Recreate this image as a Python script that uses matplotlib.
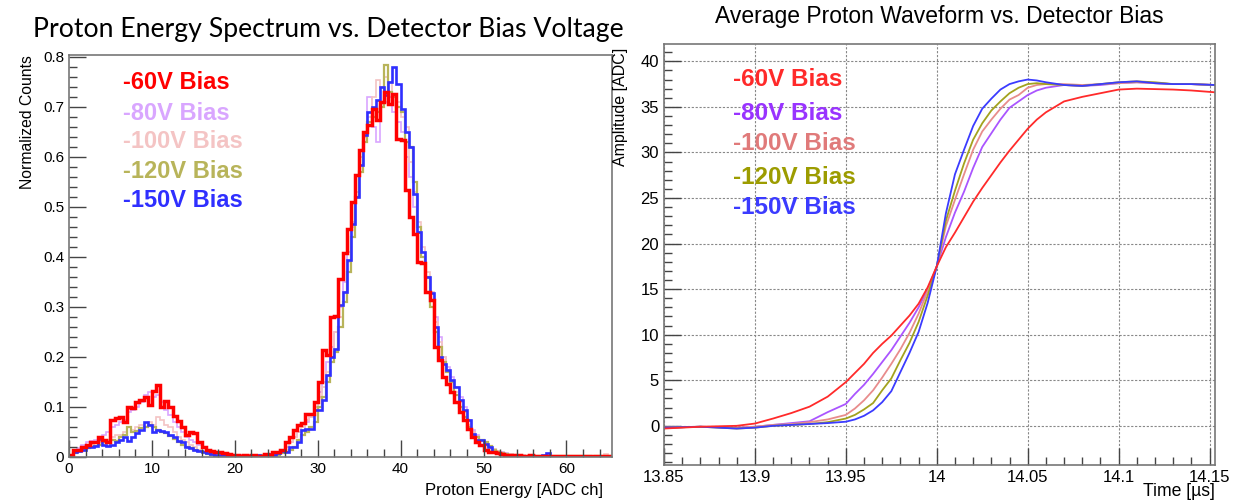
import numpy as np
import matplotlib.pyplot as plt
from matplotlib.ticker import MultipleLocator, FuncFormatter

# ---- left panel: proton energy histograms, 0.5 ADC ch bins from 0 to 65.5
bin_edges = np.arange(0, 66, 0.5)

h_60v = [0.005, 0.015, 0.015, 0.02, 0.025, 0.03, 0.03, 0.04, 0.035, 0.03,
         0.075, 0.078, 0.08, 0.07, 0.10, 0.098, 0.11, 0.115, 0.12, 0.105,
         0.132, 0.145, 0.10, 0.112, 0.10, 0.083, 0.072, 0.06, 0.045, 0.05,
         0.048, 0.03, 0.02, 0.015, 0.012, 0.01, 0.01, 0.008, 0.006, 0.005,
         0.004, 0.003, 0.005, 0.002, 0.004, 0.001, 0.003, 0.006, 0.005, 0.01,
         0.01, 0.014, 0.03, 0.04, 0.054, 0.064, 0.068, 0.087, 0.087, 0.11,
         0.15, 0.214, 0.204, 0.28, 0.282, 0.357, 0.408, 0.457, 0.51, 0.564,
         0.614, 0.65, 0.664, 0.697, 0.674, 0.71, 0.73, 0.707, 0.727, 0.637,
         0.634, 0.534, 0.48, 0.447, 0.39, 0.388, 0.33, 0.314, 0.22, 0.194,
         0.161, 0.147, 0.13, 0.11, 0.09, 0.074, 0.057, 0.04, 0.03, 0.024,
         0.014, 0.011, 0.011, 0.008, 0.006, 0.005, 0.005, 0.004, 0.004, 0.003,
         0.003, 0.004, 0.002, 0.003, 0.003, 0.002, 0.003, 0.002, 0.003, 0.002,
         0.002, 0.003, 0.002, 0.002, 0.003, 0.002, 0.002, 0.003, 0.002, 0.002,
         0.002]

h_80v = [0.004, 0.012, 0.018, 0.025, 0.03, 0.032, 0.035, 0.04, 0.045, 0.05,
         0.06, 0.065, 0.07, 0.075, 0.09, 0.095, 0.1, 0.11, 0.125, 0.13,
         0.12, 0.125, 0.11, 0.095, 0.085, 0.07, 0.06, 0.05, 0.04, 0.035,
         0.03, 0.025, 0.018, 0.015, 0.012, 0.01, 0.008, 0.006, 0.005, 0.005,
         0.004, 0.005, 0.003, 0.004, 0.003, 0.004, 0.003, 0.005, 0.006, 0.008,
         0.01, 0.015, 0.02, 0.03, 0.04, 0.05, 0.055, 0.07, 0.08, 0.1,
         0.13, 0.15, 0.19, 0.22, 0.25, 0.3, 0.35, 0.41, 0.47, 0.53,
         0.6, 0.65, 0.72, 0.66, 0.63, 0.7, 0.71, 0.72, 0.69, 0.67,
         0.65, 0.6, 0.56, 0.5, 0.45, 0.4, 0.36, 0.33, 0.28, 0.24,
         0.2, 0.18, 0.16, 0.14, 0.12, 0.1, 0.075, 0.055, 0.045, 0.035,
         0.03, 0.022, 0.016, 0.012, 0.01, 0.008, 0.006, 0.005, 0.004, 0.004,
         0.003, 0.003, 0.002, 0.003, 0.003, 0.002, 0.002, 0.003, 0.002, 0.003,
         0.002, 0.002, 0.003, 0.002, 0.002, 0.002, 0.003, 0.002, 0.002, 0.002,
         0.002]

h_100v = [0.003, 0.01, 0.015, 0.02, 0.02, 0.025, 0.03, 0.03, 0.035, 0.035,
          0.04, 0.045, 0.045, 0.05, 0.06, 0.055, 0.06, 0.065, 0.06, 0.07,
          0.065, 0.08, 0.075, 0.065, 0.06, 0.05, 0.04, 0.035, 0.03, 0.025,
          0.02, 0.015, 0.012, 0.01, 0.008, 0.005, 0.004, 0.003, 0.002, 0.003,
          0.002, 0.003, 0.002, 0.004, 0.003, 0.003, 0.004, 0.005, 0.005, 0.008,
          0.01, 0.012, 0.02, 0.03, 0.04, 0.05, 0.06, 0.075, 0.08, 0.1,
          0.12, 0.14, 0.17, 0.2, 0.25, 0.28, 0.33, 0.39, 0.46, 0.53,
          0.6, 0.64, 0.68, 0.72, 0.755, 0.74, 0.76, 0.75, 0.72, 0.71,
          0.68, 0.66, 0.59, 0.53, 0.47, 0.42, 0.37, 0.33, 0.27, 0.23,
          0.2, 0.17, 0.15, 0.13, 0.11, 0.09, 0.065, 0.05, 0.04, 0.035,
          0.028, 0.02, 0.016, 0.012, 0.009, 0.007, 0.006, 0.005, 0.004, 0.004,
          0.003, 0.003, 0.002, 0.003, 0.002, 0.003, 0.002, 0.002, 0.003, 0.002,
          0.002, 0.002, 0.003, 0.002, 0.002, 0.003, 0.002, 0.002, 0.002, 0.006,
          0.002]

h_120v = [0.002, 0.008, 0.012, 0.015, 0.018, 0.02, 0.022, 0.025, 0.03, 0.028,
          0.035, 0.033, 0.04, 0.045, 0.06, 0.05, 0.052, 0.058, 0.06, 0.065,
          0.06, 0.055, 0.05, 0.048, 0.042, 0.036, 0.03, 0.025, 0.02, 0.018,
          0.014, 0.012, 0.01, 0.006, 0.005, 0.003, 0.002, 0.002, 0.003, 0.002,
          0.003, 0.002, 0.001, 0.002, 0.003, 0.002, 0.004, 0.003, 0.004, 0.006,
          0.005, 0.008, 0.01, 0.015, 0.02, 0.035, 0.045, 0.05, 0.06, 0.07,
          0.1, 0.12, 0.15, 0.19, 0.21, 0.26, 0.31, 0.37, 0.44, 0.52,
          0.57, 0.63, 0.67, 0.68, 0.69, 0.7, 0.785, 0.73, 0.72, 0.70,
          0.69, 0.63, 0.62, 0.55, 0.46, 0.4, 0.36, 0.3, 0.25, 0.22,
          0.19, 0.17, 0.15, 0.125, 0.1, 0.08, 0.06, 0.045, 0.04, 0.035,
          0.03, 0.022, 0.015, 0.01, 0.008, 0.006, 0.005, 0.004, 0.003, 0.003,
          0.002, 0.003, 0.002, 0.003, 0.002, 0.002, 0.003, 0.002, 0.002, 0.002,
          0.002, 0.002, 0.003, 0.002, 0.002, 0.002, 0.001, 0.002, 0.002, 0.002,
          0.002]

h_150v = [0.003, 0.01, 0.012, 0.015, 0.02, 0.02, 0.022, 0.037, 0.025, 0.022,
          0.025, 0.03, 0.035, 0.04, 0.033, 0.04, 0.048, 0.055, 0.07, 0.065,
          0.05, 0.055, 0.053, 0.05, 0.045, 0.04, 0.033, 0.03, 0.02, 0.018,
          0.015, 0.012, 0.01, 0.008, 0.007, 0.005, 0.004, 0.004, 0.003, 0.003,
          0.002, 0.003, 0.002, 0.003, 0.002, 0.004, 0.003, 0.004, 0.006, 0.005,
          0.008, 0.012, 0.01, 0.02, 0.02, 0.03, 0.054, 0.057, 0.057, 0.094,
          0.094, 0.114, 0.164, 0.2, 0.217, 0.304, 0.33, 0.394, 0.467, 0.52,
          0.584, 0.644, 0.69, 0.70, 0.714, 0.74, 0.724, 0.75, 0.78, 0.747,
          0.697, 0.65, 0.62, 0.527, 0.45, 0.41, 0.36, 0.328, 0.26, 0.2,
          0.187, 0.174, 0.154, 0.14, 0.114, 0.094, 0.074, 0.047, 0.034, 0.034,
          0.027, 0.02, 0.01, 0.008, 0.006, 0.004, 0.005, 0.003, 0.004, 0.003,
          0.003, 0.002, 0.003, 0.002, 0.004, 0.008, 0.002, 0.003, 0.002, 0.002,
          0.002, 0.003, 0.002, 0.002, 0.001, 0.002, 0.002, 0.002, 0.003, 0.002,
          0.002]

# ---- right panel: average waveforms
t_us = [13.85, 13.87, 13.89, 13.90, 13.91, 13.92, 13.93, 13.94, 13.95, 13.955,
        13.96, 13.965, 13.97, 13.975, 13.98, 13.985, 13.99, 13.995, 14.0, 14.005,
        14.01, 14.015, 14.02, 14.025, 14.03, 14.035, 14.04, 14.045, 14.05, 14.055,
        14.06, 14.07, 14.08, 14.09, 14.1, 14.11, 14.12, 14.13, 14.14, 14.153]

w_60v = [-0.3, -0.1, 0.0, 0.25, 0.8, 1.4, 2.1, 3.2, 4.8, 5.8,
         6.8, 8.0, 9.0, 9.9, 11.0, 12.1, 13.4, 15.2, 17.5, 19.6,
         21.2, 22.9, 24.6, 26.1, 27.5, 28.9, 30.2, 31.4, 32.6, 33.6,
         34.4, 35.6, 36.1, 36.5, 36.9, 37.0, 36.95, 36.9, 36.8, 36.6]
w_80v = [-0.2, -0.1, -0.2, -0.1, 0.1, 0.3, 0.5, 1.5, 2.4, 3.5,
         4.5, 5.7, 7.0, 8.3, 9.8, 11.3, 13.0, 15.0, 17.5, 20.7,
         23.4, 25.7, 28.3, 30.6, 32.1, 33.6, 34.9, 35.6, 36.3, 36.8,
         37.1, 37.4, 37.3, 37.4, 37.6, 37.7, 37.6, 37.5, 37.5, 37.4]
w_100v = [-0.2, -0.1, -0.2, -0.1, 0.1, 0.2, 0.4, 0.7, 1.2, 1.9,
          2.8, 3.9, 5.3, 6.8, 8.4, 10.2, 12.3, 14.8, 17.5, 21.9,
          24.8, 27.6, 30.3, 32.3, 33.6, 34.8, 35.8, 36.3, 37.1, 37.4,
          37.5, 37.5, 37.4, 37.5, 37.6, 37.7, 37.6, 37.5, 37.5, 37.4]
w_120v = [-0.2, -0.1, -0.3, -0.2, 0.0, 0.1, 0.2, 0.4, 0.8, 1.2,
          1.8, 2.5, 3.9, 5.2, 7.2, 9.1, 11.4, 14.3, 17.5, 22.5,
          25.8, 28.8, 31.4, 33.2, 34.6, 35.6, 36.5, 37.1, 37.5, 37.6,
          37.5, 37.4, 37.3, 37.5, 37.7, 37.8, 37.7, 37.5, 37.5, 37.4]
w_150v = [-0.2, -0.1, -0.3, -0.2, 0.0, 0.1, 0.2, 0.3, 0.45, 0.7,
          1.1, 1.7, 2.6, 3.8, 5.9, 8.0, 10.3, 13.5, 17.5, 23.3,
          27.6, 30.3, 32.9, 34.8, 35.9, 36.9, 37.5, 37.8, 38.0, 37.9,
          37.7, 37.4, 37.3, 37.5, 37.7, 37.8, 37.6, 37.5, 37.5, 37.4]

bias_labels = ['-60V Bias', '-80V Bias', '-100V Bias', '-120V Bias', '-150V Bias']

plt.rcParams['font.family'] = ['Liberation Sans', 'DejaVu Sans']

fig = plt.figure(figsize=(12.34, 5.01), dpi=100)
W, H = 1234.0, 501.0

def style_axes(ax, maj, mino, ymaj, ymin):
    ax.xaxis.set_major_locator(MultipleLocator(maj))
    ax.xaxis.set_minor_locator(MultipleLocator(mino))
    ax.yaxis.set_major_locator(MultipleLocator(ymaj))
    ax.yaxis.set_minor_locator(MultipleLocator(ymin))
    ax.tick_params(which='major', direction='in', length=12, width=1, color='#444444')
    ax.tick_params(which='minor', direction='in', length=6, width=1, color='#444444')
    fmt = FuncFormatter(lambda v, p: '%g' % round(v, 4))
    ax.xaxis.set_major_formatter(fmt)
    ax.yaxis.set_major_formatter(fmt)
    for s in ax.spines.values():
        s.set_color('#777777')
        s.set_linewidth(1.2)

# left histogram panel
ax1 = fig.add_axes([69 / W, 1 - 457 / H, 543 / W, 402 / H])
hist_cols = ['#ff0000', '#d9a6ff', '#f4c4c4', '#b8b45a', '#2f2fff']
hists = [h_60v, h_80v, h_100v, h_120v, h_150v]
for i in [1, 2, 3, 4, 0]:
    lw = {0: 2.5, 1: 1.2, 2: 1.2, 3: 1.6, 4: 1.9}[i]
    ax1.stairs(hists[i], bin_edges, color=hist_cols[i], lw=lw)
ax1.set_xlim(0, 65.5)
ax1.set_ylim(0, 0.804)
style_axes(ax1, 10, 2, 0.1, 0.02)
ax1.tick_params(labelsize=11)

fig.text(33 / W, 1 - 30 / H, 'Proton Energy Spectrum vs. Detector Bias Voltage',
         fontsize=19.2, family='Lato', ha='left', va='center')
fig.text(27 / W, 1 - 55 / H, 'Normalized Counts', rotation=90, fontsize=11.3,
         ha='center', va='top')
fig.text(603 / W, 1 - 490 / H, 'Proton Energy [ADC ch]', fontsize=12,
         ha='right', va='center')
leg_y1 = [83, 113, 141, 172, 201]
for lab, c, y in zip(bias_labels, hist_cols, leg_y1):
    fig.text(123 / W, 1 - y / H, lab, color=c, fontsize=17, weight='bold',
             ha='left', va='center')

# right waveform panel
ax2 = fig.add_axes([664 / W, 1 - 465 / H, 551 / W, 421 / H])
wave_cols = ['#ff2a2a', '#aa55ff', '#e88c8c', '#a3a21e', '#3b3bff']
waves = [w_60v, w_80v, w_100v, w_120v, w_150v]
for i in [1, 2, 3, 4, 0]:
    ax2.plot(t_us, waves[i], color=wave_cols[i], lw=1.3)
ax2.set_xlim(13.85, 14.153)
ax2.set_ylim(-4.3, 41.9)
style_axes(ax2, 0.05, 0.01, 5, 1)
ax2.tick_params(labelsize=12)
ax2.grid(True, which='major', color='#888888', lw=0.8, ls=(0, (2, 1.5)))
ax2.set_axisbelow(True)

fig.text(939 / W, 1 - 17 / H, 'Average Proton Waveform vs. Detector Bias',
         fontsize=16.5, ha='center', va='center')
fig.text(621 / W, 1 - 48 / H, 'Amplitude [ADC]', rotation=90, fontsize=11.5,
         ha='center', va='top')
fig.text(1215 / W, 1 - 492 / H, 'Time [\u00b5s]', fontsize=12.7,
         ha='right', va='center')
wave_leg_cols = ['#ff2a2a', '#9933ff', '#e07a7a', '#9c9c00', '#3b3bff']
leg_y2 = [79, 114, 144, 177, 208]
for lab, c, y in zip(bias_labels, wave_leg_cols, leg_y2):
    fig.text(733 / W, 1 - y / H, lab, color=c, fontsize=17.5, weight='bold',
             ha='left', va='center')

fig.savefig('out.png', dpi=100)
